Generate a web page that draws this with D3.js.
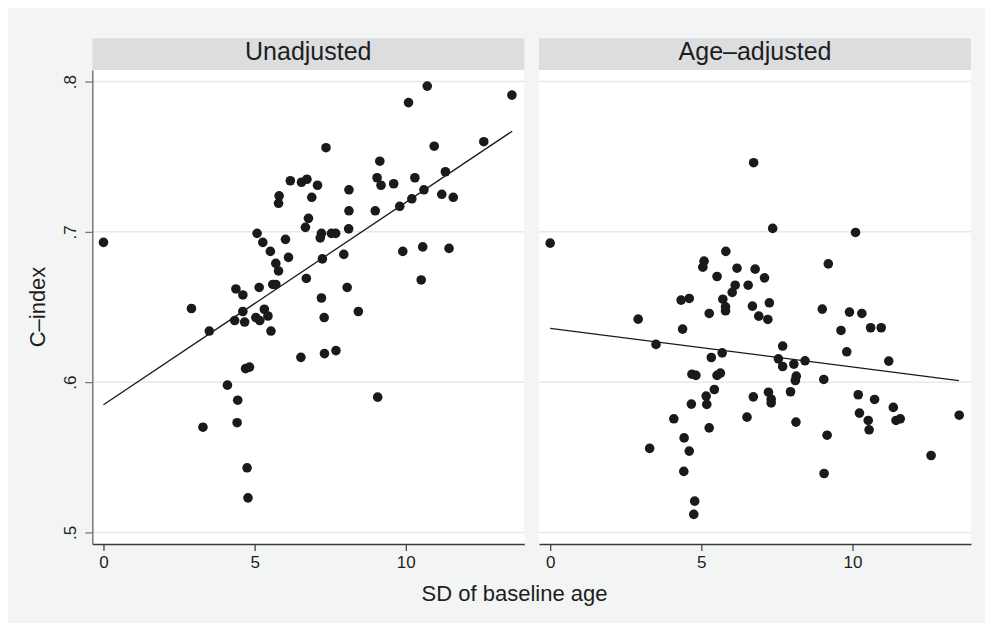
<!DOCTYPE html>
<html>
<head>
<meta charset="utf-8">
<script src="https://cdn.jsdelivr.net/npm/d3@7/dist/d3.min.js"></script>
<style>
  html, body { margin: 0; padding: 0; background: #ffffff; }
  svg { display: block; }
  text { font-family: "Liberation Sans", Arial, Helvetica, sans-serif; fill: #1e1e1e; }
</style>
</head>
<body>
<script>
// ---------------- DATA ----------------
const panelTitles = ["Unadjusted", "Age\u2013adjusted"];
const xTickValues = [0, 5, 10];
const yTickValues = [0.5, 0.6, 0.7, 0.8];
const yTickLabels = [".5", ".6", ".7", ".8"];
const xTitle = "SD of baseline age";
const yTitle = "C\u2013index";

// Unadjusted panel: SD of baseline age and C-index
const unadjustedSD = [0,10.71,13.51,10.09,7.36,10.94,12.58,9.14,11.31,9.05,9.18,9.60,10.30,6.18,6.55,6.73,7.08,5.81,5.79,6.89,
  8.12,8.12,8.99,9.80,10.20,10.60,11.19,11.57,6.78,6.68,7.21,7.17,7.54,7.68,8.11,5.08,5.27,6.02,5.52,6.12,
  7.95,7.24,9.90,10.56,11.43,5.70,5.79,6.71,10.51,5.60,5.70,4.38,4.61,5.15,8.06,7.21,2.91,8.43,4.61,5.32,
  4.34,4.67,5.04,5.17,5.44,3.50,5.54,7.30,6.53,7.31,7.69,4.70,4.83,4.10,4.44,3.29,4.42,4.75,4.78,9.07];
const unadjustedC = [0.693,0.797,0.791,0.786,0.756,0.757,0.760,0.747,0.740,0.736,0.731,0.732,0.736,0.734,0.733,0.735,0.731,0.724,0.719,0.723,
  0.728,0.714,0.714,0.717,0.722,0.728,0.725,0.723,0.709,0.703,0.699,0.696,0.699,0.699,0.702,0.699,0.693,0.695,0.687,0.683,
  0.685,0.682,0.687,0.690,0.689,0.679,0.674,0.669,0.668,0.665,0.665,0.662,0.658,0.663,0.663,0.656,0.649,0.647,0.647,0.6485,
  0.641,0.640,0.643,0.641,0.644,0.634,0.634,0.643,0.6165,0.619,0.621,0.609,0.610,0.598,0.588,0.570,0.573,0.543,0.523,0.590];

// Age-adjusted panel
const adjustedSD = [0,6.73,7.36,10.10,5.81,5.09,5.05,6.18,6.78,7.09,5.52,9.20,6.12,6.02,6.55,4.33,4.60,5.71,5.80,5.80,
  6.69,7.25,9.00,9.90,10.31,5.26,2.91,6.90,7.20,4.38,9.62,10.60,10.95,3.50,7.69,9.81,5.69,5.33,7.55,8.43,
  8.06,11.20,7.69,4.69,4.82,5.52,5.63,8.14,8.11,9.05,5.43,7.22,7.95,5.16,6.72,7.31,7.31,10.19,10.73,4.67,
  5.18,11.35,4.09,6.51,8.13,10.23,10.52,11.44,11.58,13.53,5.26,10.55,4.43,9.16,3.29,4.60,12.60,4.42,9.06,4.78,4.75];
const adjustedC = [0.6925,0.746,0.7023,0.6996,0.687,0.6805,0.6765,0.6758,0.6752,0.6694,0.6703,0.6787,0.6645,0.6597,0.6645,0.6546,0.6557,0.6552,0.6501,0.6475,
  0.6506,0.6528,0.6486,0.6466,0.6457,0.6457,0.6419,0.6439,0.6417,0.6353,0.6344,0.6362,0.6362,0.6251,0.624,0.6202,0.6195,0.6164,0.6155,0.6142,
  0.612,0.614,0.6104,0.6053,0.6045,0.6045,0.606,0.604,0.6011,0.6018,0.5951,0.5933,0.5936,0.5907,0.5902,0.5887,0.5862,0.5916,0.5885,0.5854,
  0.5852,0.5832,0.5756,0.5767,0.5734,0.5794,0.5745,0.5745,0.5756,0.578,0.5696,0.5683,0.5629,0.5647,0.5559,0.5541,0.5512,0.5406,0.5392,0.5208,0.512];

// Fitted lines (start / end points)
const fitSD = [0, 13.52];
const unadjustedFitC = [0.585, 0.767];
const adjustedFitC = [0.6358, 0.601];

// ---------------- LAYOUT ----------------
const W = 987, H = 623;
const svg = d3.select("body").append("svg").attr("width", W).attr("height", H);

svg.append("rect").attr("x", 8).attr("y", 8).attr("width", 977).attr("height", 615).attr("fill", "#f3f5f4");

const plotTop = 70, plotBottom = 544;
const stripTop = 38.3;
const panelsX = [[92.3, 524.3], [539, 971]];
const xDomain = [-0.37, 13.92];
const y = d3.scaleLinear().domain([0.4923, 0.8077]).range([plotBottom, plotTop]);

const panels = [
  { title: panelTitles[0], sd: unadjustedSD, c: unadjustedC, fit: unadjustedFitC },
  { title: panelTitles[1], sd: adjustedSD, c: adjustedC, fit: adjustedFitC }
];

panels.forEach((p, i) => {
  const [x0, x1] = panelsX[i];
  const x = d3.scaleLinear().domain(xDomain).range([x0, x1]);
  const g = svg.append("g");

  // strip
  g.append("rect").attr("x", x0).attr("y", stripTop).attr("width", x1 - x0).attr("height", plotTop - stripTop)
    .attr("fill", "#dcdddf");
  g.append("text").attr("x", (x0 + x1) / 2).attr("y", 60).attr("text-anchor", "middle")
    .attr("font-size", 25).text(p.title);

  // plot region
  g.append("rect").attr("x", x0).attr("y", plotTop).attr("width", x1 - x0).attr("height", plotBottom - plotTop)
    .attr("fill", "#ffffff");

  // gridlines
  g.selectAll("line.grid").data(yTickValues).enter().append("line")
    .attr("x1", x0).attr("x2", x1)
    .attr("y1", d => y(d)).attr("y2", d => y(d))
    .attr("stroke", "#e7e8e8").attr("stroke-width", 1.5);

  // fit line
  g.append("line")
    .attr("x1", x(fitSD[0])).attr("y1", y(p.fit[0]))
    .attr("x2", x(fitSD[1])).attr("y2", y(p.fit[1]))
    .attr("stroke", "#1a1a1a").attr("stroke-width", 1.3);

  // points
  g.selectAll("circle").data(p.sd.map((v, k) => [v, p.c[k]])).enter().append("circle")
    .attr("cx", d => x(d[0])).attr("cy", d => y(d[1])).attr("r", 4.8)
    .attr("fill", "#1a1a1a");

  // x axis
  const xa = g.append("g").attr("transform", `translate(0,${plotBottom})`)
    .call(d3.axisBottom(x).tickValues(xTickValues).tickSize(7).tickSizeOuter(0).tickPadding(5));
  xa.select(".domain").attr("stroke", "#3a3a3a").attr("stroke-width", 1.4);
  xa.selectAll(".tick line").attr("stroke", "#3a3a3a").attr("stroke-width", 1.2);
  xa.selectAll(".tick text").attr("font-size", 17).attr("fill", "#1e1e1e")
    .attr("font-family", "Liberation Sans, Arial, sans-serif");

  // y axis (left panel only)
  if (i === 0) {
    const ya = g.append("g").attr("transform", `translate(${x0},0)`)
      .call(d3.axisLeft(y).tickValues(yTickValues).tickSize(7).tickSizeOuter(0)
        .tickFormat((d, k) => yTickLabels[k]));
    ya.select(".domain").attr("stroke", "#6f6f6f").attr("stroke-width", 1.4);
    ya.selectAll(".tick line").attr("stroke", "#6f6f6f").attr("stroke-width", 1.2);
    ya.selectAll(".tick text")
      .attr("x", 0).attr("dy", 0)
      .attr("transform", "translate(-16,0) rotate(-90)")
      .attr("text-anchor", "middle")
      .attr("font-size", 17).attr("fill", "#1e1e1e")
      .attr("font-family", "Liberation Sans, Arial, sans-serif");
  }
});

// axis titles
svg.append("text").attr("x", 514.5).attr("y", 600.5).attr("text-anchor", "middle")
  .attr("font-size", 22).text(xTitle);
svg.append("text").attr("transform", "translate(45,307) rotate(-90)").attr("text-anchor", "middle")
  .attr("font-size", 22).text(yTitle);
</script>
</body>
</html>
